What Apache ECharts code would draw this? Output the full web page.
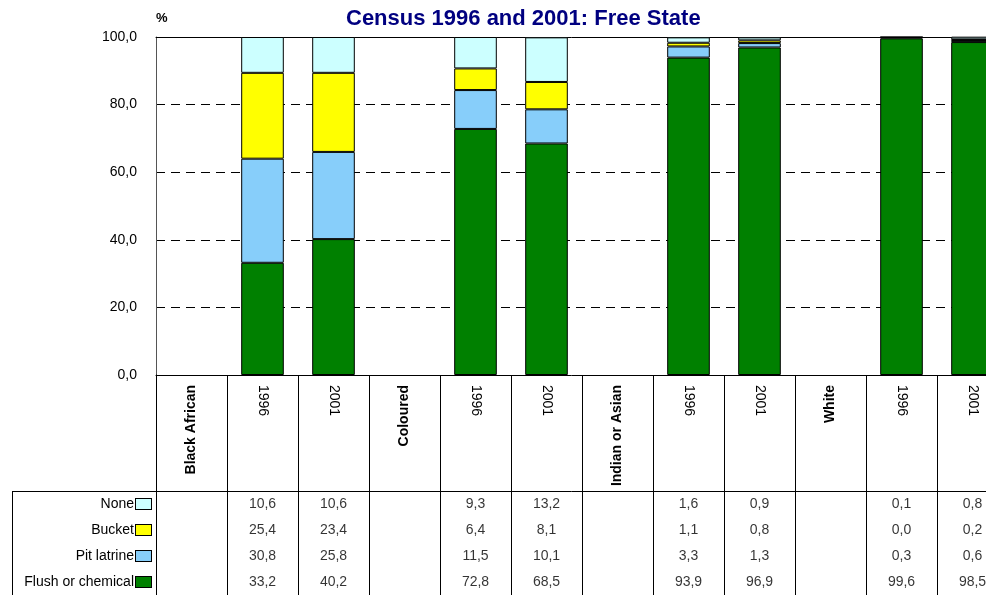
<!DOCTYPE html>
<html>
<head>
<meta charset="utf-8">
<title>Census 1996 and 2001: Free State</title>
<script src="https://cdn.jsdelivr.net/npm/echarts@6/dist/echarts.min.js"></script>
<style>
  html, body { margin: 0; padding: 0; background: #fff; }
  #chart { width: 986px; height: 595px; }
</style>
</head>
<body>
<div id="chart"></div>
<script>
// categories: group headers plus the census years
var categories = ['Black African', '1996', '2001', 'Coloured', '1996', '2001', 'Indian or Asian', '1996', '2001', 'White', '1996', '2001']
var groupIdx = [0, 3, 6, 9]
var serNames = ['Flush or chemical', 'Pit latrine', 'Bucket', 'None']
var serColors = ['#008000', '#87CEFA', '#FFFF00', '#CCFFFF']
// values in %, '-' where the column is a group header
var flush = ['-', 33.2, 40.2, '-', 72.8, 68.5, '-', 93.9, 96.9, '-', 99.6, 98.5]
var pit = ['-', 30.8, 25.8, '-', 11.5, 10.1, '-', 3.3, 1.3, '-', 0.3, 0.6]
var bucket = ['-', 25.4, 23.4, '-', 6.4, 8.1, '-', 1.1, 0.8, '-', 0.0, 0.2]
var none = ['-', 10.6, 10.6, '-', 9.3, 13.2, '-', 1.6, 0.9, '-', 0.1, 0.8]
var yTicks = [0, 20, 40, 60, 80, 100]

var valueSets = [flush, pit, bucket, none]
var tableRows = ['None', 'Bucket', 'Pit latrine', 'Flush or chemical']

function fmt(v) {
  return v.toFixed(1).replace('.', ',')
}

var myChart = echarts.init(document.getElementById('chart'))

var barSeries = serNames.map(function (n, i) {
  return {
    name: n,
    type: 'bar',
    stack: 'all',
    xAxisIndex: 0,
    yAxisIndex: 0,
    barWidth: '60%',
    data: valueSets[i],
    itemStyle: { color: serColors[i], borderColor: '#000', borderWidth: 1 }
  }
})

// table cells: [column, row, value]
var cells = []
tableRows.forEach(function (r, ri) {
  var arr = valueSets[serNames.indexOf(r)]
  arr.forEach(function (v, ci) {
    if (v !== '-') cells.push([ci, ri, v])
  })
})

var richRow = { t: { fontSize: 14, color: '#000', fontFamily: 'Liberation Sans', padding: [0, 2, 0, 0] } }
serNames.forEach(function (n, i) {
  richRow['s' + i] = { width: 15, height: 10, backgroundColor: serColors[i], borderColor: '#000', borderWidth: 1 }
})

var lblFont = { fontFamily: 'Liberation Sans', fontSize: 14, color: '#000' }

var option = {
  animation: false,
  backgroundColor: '#fff',
  title: {
    text: 'Census 1996 and 2001: Free State',
    left: 341,
    top: 3,
    textStyle: { fontFamily: 'Liberation Sans', fontSize: 22, fontWeight: 'bold', color: '#000080' }
  },
  graphic: [
    { type: 'text', left: 156, top: 12, style: { text: '%', fontFamily: 'Liberation Sans', fontSize: 13, fontWeight: 'bold', fill: '#000' } },
    { type: 'line', shape: { x1: 12, y1: 491.5, x2: 156, y2: 491.5 }, style: { stroke: '#000', lineWidth: 1 } },
    { type: 'line', shape: { x1: 12.5, y1: 491, x2: 12.5, y2: 600 }, style: { stroke: '#000', lineWidth: 1 } }
  ],
  grid: [
    { left: 156, top: 37, width: 852, height: 338, outerBoundsMode: 'none' },
    { left: 156, top: 375, width: 852, height: 116, outerBoundsMode: 'none' },
    { left: 156, top: 491, width: 852, height: 104, outerBoundsMode: 'none' }
  ],
  xAxis: [
    {
      // year labels, reading downwards
      type: 'category', gridIndex: 0, data: categories,
      axisLine: { lineStyle: { color: '#000', width: 1 } },
      axisTick: { show: false },
      axisLabel: Object.assign({
        rotate: -90, margin: 10, interval: 0,
        formatter: function (v, i) { return groupIdx.indexOf(i) >= 0 ? '' : v }
      }, lblFont),
      splitLine: { show: false }
    },
    {
      // group labels, bold, reading upwards
      type: 'category', gridIndex: 0, data: categories, position: 'bottom',
      axisLine: { show: false }, axisTick: { show: false },
      axisLabel: Object.assign({
        rotate: 90, margin: 10, interval: 0,
        formatter: function (v, i) { return groupIdx.indexOf(i) >= 0 ? v : '' }
      }, lblFont, { fontWeight: 'bold' })
    },
    {
      type: 'category', gridIndex: 0, data: categories, position: 'top',
      axisLine: { lineStyle: { color: '#000', width: 1 } },
      axisTick: { show: false }, axisLabel: { show: false }
    },
    {
      type: 'category', gridIndex: 1, data: categories,
      axisLine: { show: false }, axisTick: { show: false }, axisLabel: { show: false, interval: 0 },
      splitLine: { show: true, interval: 0, lineStyle: { color: '#000', width: 1 } }
    },
    {
      type: 'category', gridIndex: 2, data: categories, position: 'top',
      axisLine: { lineStyle: { color: '#000', width: 1 } },
      axisTick: { show: false }, axisLabel: { show: false, interval: 0 },
      splitLine: { show: true, interval: 0, lineStyle: { color: '#000', width: 1 } }
    }
  ],
  yAxis: [
    {
      type: 'value', gridIndex: 0, min: yTicks[0], max: yTicks[yTicks.length - 1], interval: 20,
      axisLine: { show: true, lineStyle: { color: '#555', width: 1 } },
      axisTick: { show: false },
      axisLabel: Object.assign({ margin: 19, formatter: function (v) { return fmt(v) } }, lblFont),
      splitLine: { lineStyle: { color: '#000', type: [9, 6], width: 1 } }
    },
    {
      type: 'value', gridIndex: 1,
      axisLine: { show: true, lineStyle: { color: '#000', width: 1 } },
      axisTick: { show: false }, axisLabel: { show: false }, splitLine: { show: false }
    },
    {
      type: 'category', gridIndex: 2, data: tableRows, inverse: true,
      axisLine: { show: true, lineStyle: { color: '#000', width: 1 } },
      axisTick: { show: false },
      axisLabel: {
        margin: 5,
        formatter: function (v) { return '{t|' + v + '}{s' + serNames.indexOf(v) + '|}' },
        rich: richRow
      },
      splitLine: { show: false }
    }
  ],
  series: barSeries.concat([{
    type: 'scatter',
    xAxisIndex: 4,
    yAxisIndex: 2,
    symbolSize: 0,
    data: cells,
    label: {
      show: true, position: 'inside',
      fontFamily: 'Liberation Sans', fontSize: 14, color: '#000',
      formatter: function (p) { return fmt(p.value[2]) }
    }
  }])
}

myChart.setOption(option)
</script>
</body>
</html>
